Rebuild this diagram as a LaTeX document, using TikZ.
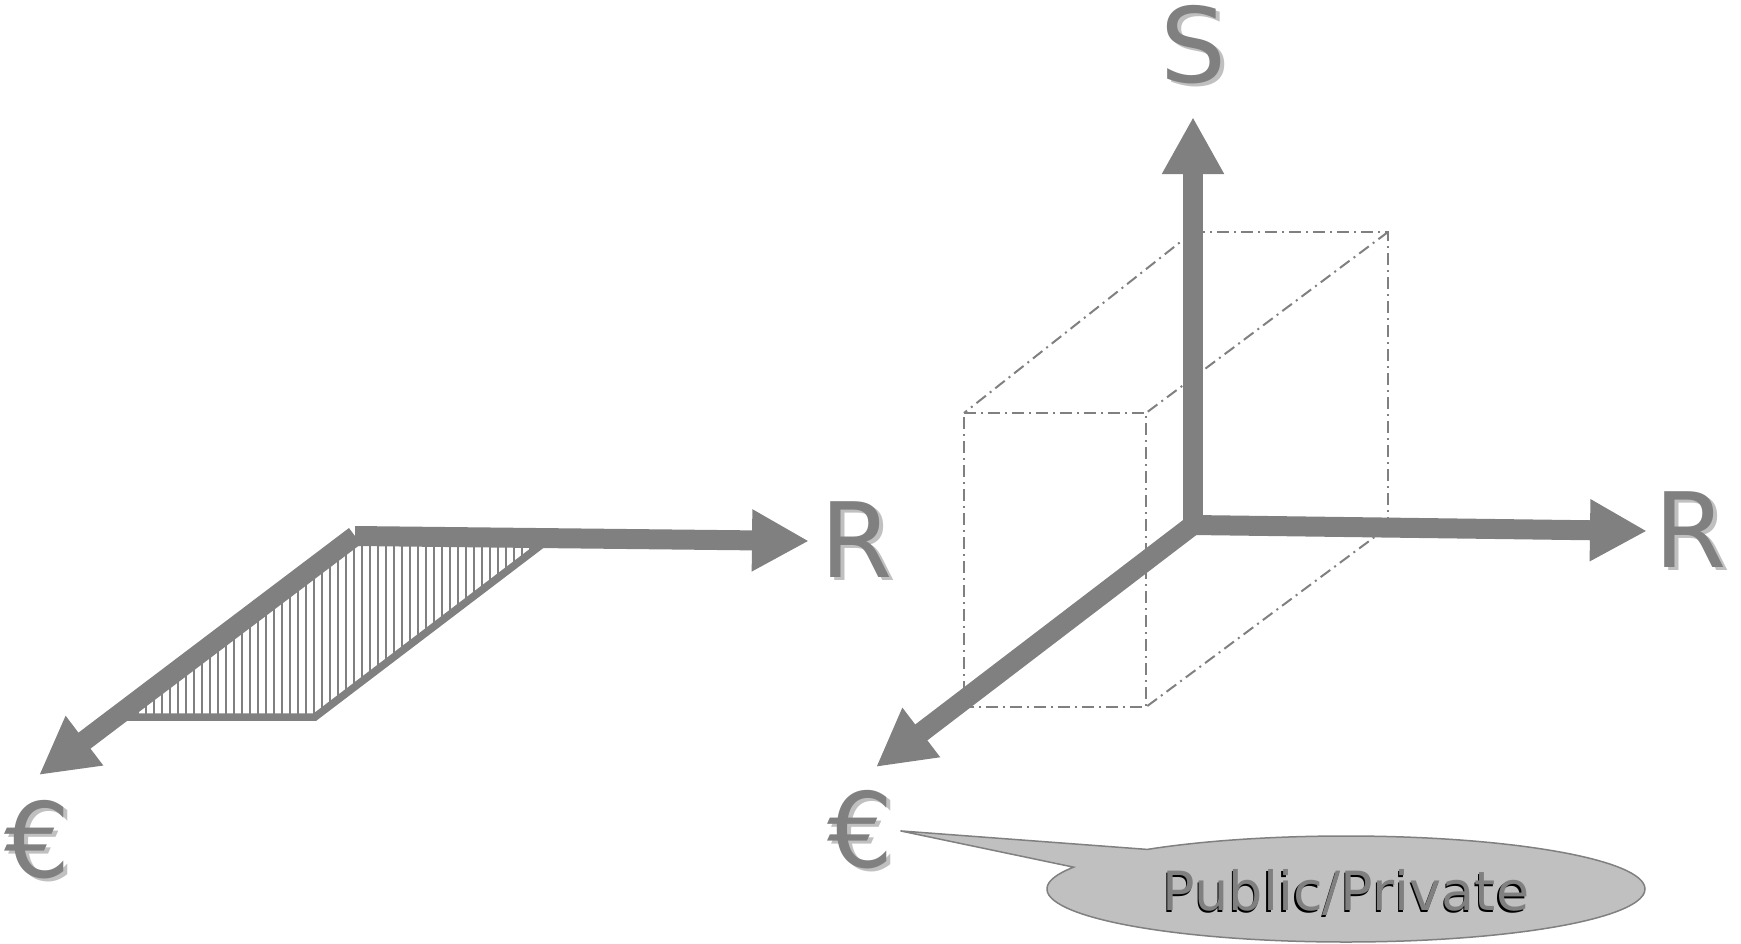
\documentclass[tikz,border=0pt]{standalone}
\usepackage{fontspec}
\setmainfont{DejaVu Sans}
\usetikzlibrary{arrows.meta,shapes.callouts}
\definecolor{axisgray}{RGB}{128,128,128}
\definecolor{shadegray}{RGB}{192,192,192}
\newcommand{\labshade}[1]{\rlap{\kern2pt\raisebox{-1.75pt}{\textcolor{shadegray}{#1}}}#1}
\newcommand{\bubshade}[1]{\rlap{\kern-0.75pt\raisebox{-0.75pt}{\textcolor{black}{#1}}}#1}
\begin{document}
\begin{tikzpicture}[x=0.5pt,y=-0.5pt,
  axis/.style={draw=axisgray,line width=10pt,-{Triangle[length=28.5pt,width=29pt]}},
  boxline/.style={draw=axisgray,line width=1pt,dash pattern=on 6pt off 2.5pt on 1pt off 2.5pt},
  axislabel/.style={text=axisgray,inner sep=0pt,anchor=base,font=\fontsize{52}{52}\selectfont},
  hatchline/.style={draw=axisgray,line width=1.2pt},
  edgeline/.style={draw=axisgray,line width=3.75pt,line join=miter}]
\useasboundingbox (0,0) rectangle (1741,943);
% left: two axes and the hatched area between them
\coordinate (O1) at (355,536);
\coordinate (R1tip) at (809,541);
\coordinate (E1tip) at (39,775);
\coordinate (A1) at (549,539);
\coordinate (B1) at (315,717);
\coordinate (C1) at (120,717);
\begin{scope}
\clip (O1) -- (A1) -- (B1) -- (C1) -- cycle;
\foreach \x in {122,130,...,550}
  \draw[hatchline] (\x,525) -- (\x,722);
\end{scope}
\draw[edgeline] (C1) -- (B1) -- (A1);
\draw[axis] (O1) -- (R1tip);
\draw[axis] (O1) -- (E1tip);
\node[axislabel] (R1) at (857,577) {\labshade{R}};
\node[axislabel] (E1) at (38,877) {\labshade{€}};
% right: three axes and the dotted box
\coordinate (O2) at (1193,525);
\coordinate (S2tip) at (1193,117);
\coordinate (R2tip) at (1647,531);
\coordinate (E2tip) at (876,767);
\coordinate (BTL) at (1193,232);
\coordinate (BTR) at (1388,232);
\coordinate (BBR) at (1388,527);
\coordinate (FTL) at (964,413);
\coordinate (FTR) at (1146,413);
\coordinate (FBR) at (1146,707);
\coordinate (FBL) at (964,707);
\draw[boxline] (BTL) -- (BTR) -- (BBR);
\draw[boxline] (FTL) -- (FTR) -- (FBR) -- (FBL) -- cycle;
\draw[boxline] (BTL) -- (FTL);
\draw[boxline] (BTR) -- (FTR);
\draw[boxline] (BBR) -- (FBR);
\draw[axis] (O2) -- (S2tip);
\draw[axis] (O2) -- (R2tip);
\draw[axis] (O2) -- (E2tip);
\node[axislabel] (S2) at (1193,82) {\labshade{S}};
\node[axislabel] (R2) at (1691,567) {\labshade{R}};
\node[axislabel] (E2) at (861,867) {\labshade{€}};
\node[ellipse callout,draw=axisgray,fill=shadegray,line width=0.75pt,
  minimum width=299pt,minimum height=53pt,
  callout absolute pointer={([xshift=3pt]E2.east)},callout pointer arc=24,
  text=axisgray,font=\fontsize{27}{27}\selectfont] (bubble) at (1346,889) {\rule{0pt}{25pt}\bubshade{Public/Private}};
\end{tikzpicture}
\end{document}
